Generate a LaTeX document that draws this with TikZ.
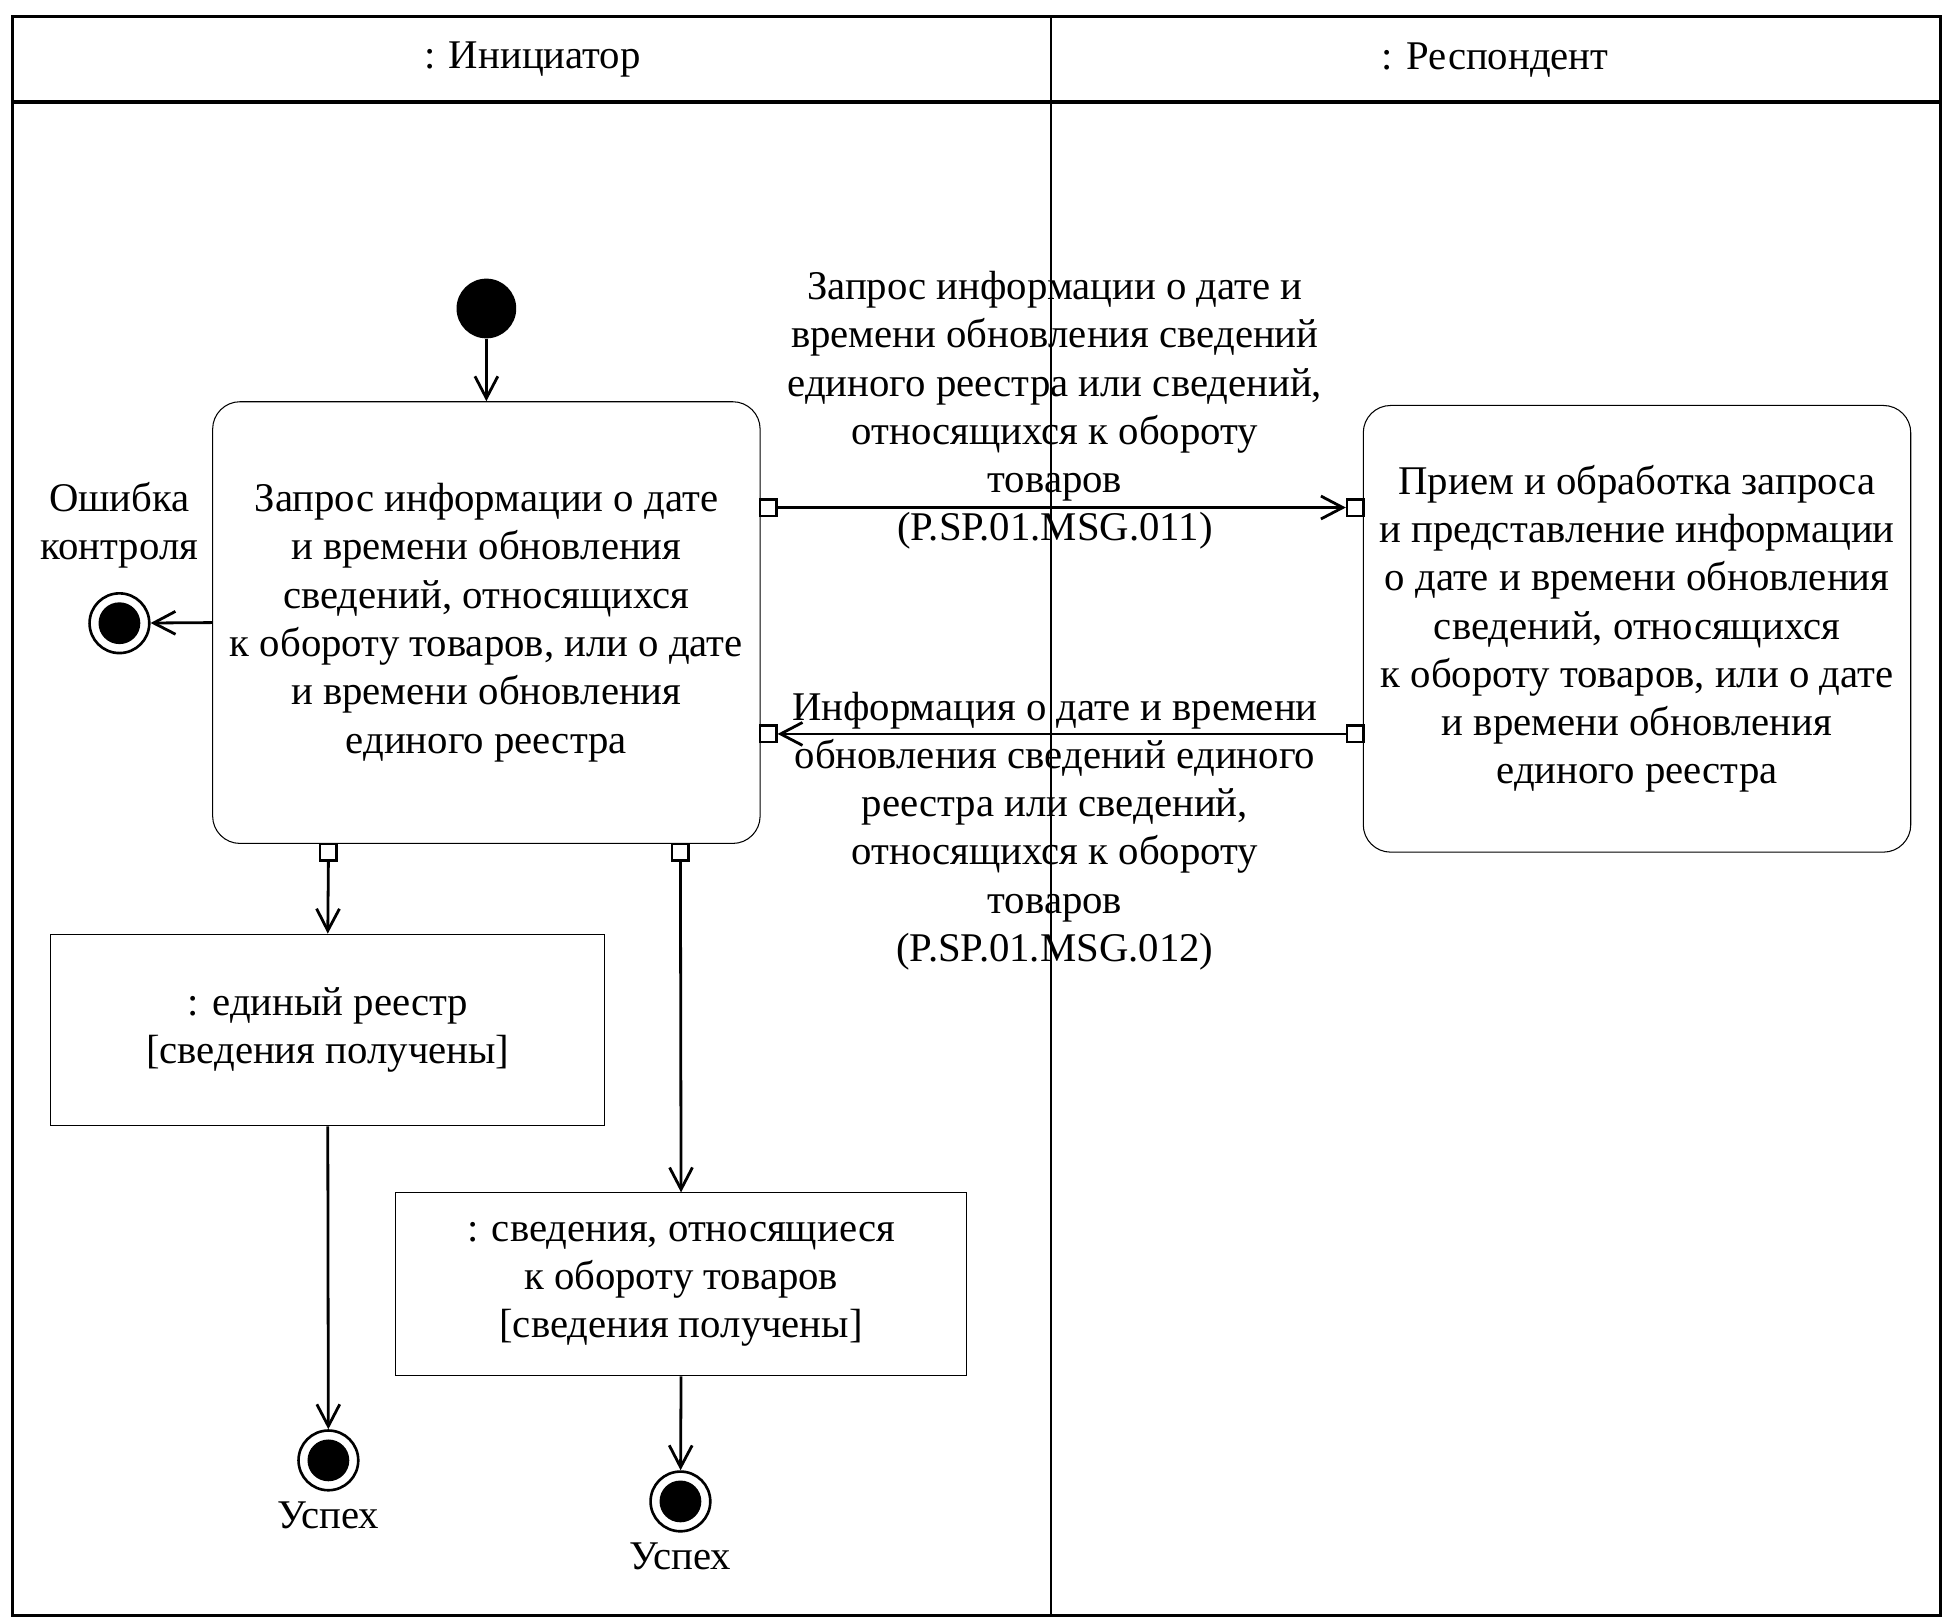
\documentclass[tikz,border=0pt]{standalone}
\usepackage{fontspec}
\setmainfont{Liberation Serif}
\usetikzlibrary{arrows.meta}
\begin{document}
\begin{tikzpicture}[x=0.025cm,y=-0.025cm,
  txt/.style={font=\fontsize{23.3}{27.6}\selectfont, align=center, inner sep=0pt},
  action/.style={txt, draw, line width=0.6pt, rounded corners=0.55cm, minimum width=11cm},
  objbox/.style={txt, draw, line width=0.6pt},
  pinbox/.style={draw, line width=1.4pt, fill=white, minimum size=0.33cm, inner sep=0pt},
  initnode/.style={circle, fill=black, minimum size=1.2cm, inner sep=0pt},
  finalnode/.style={circle, draw, line width=1.5pt, minimum size=1.2cm, inner sep=0pt,
    path picture={\fill (path picture bounding box.center) circle (0.42cm);}},
  flow/.style={line width=1.6pt, -{Straight Barb[length=0.44cm,width=0.46cm,line width=1.6pt]}},
  frame/.style={line width=1.8pt},
  divider/.style={line width=1.2pt}
]
\useasboundingbox (0,0) rectangle (1566,1304.7);
% swimlanes
\draw[frame] (10,13) rectangle (1560,1299);
\draw[frame] (10,82) -- (1560,82);
\draw[divider] (845,13) -- (845,1299);
\node[txt] (lane1) at (428,48) {: Инициатор};
\node[txt] (lane2) at (1202,48) {: Респондент};

% nodes
\node[initnode] (init) at (391,248) {};
\node[action, minimum height=8.875cm] (A) at (391,500.5) {Запрос информации о дате\\и времени обновления\\сведений, относящихся\\к обороту товаров, или о дате\\и времени обновления\\единого реестра};
\node[action, minimum height=8.975cm] (B) at (1316,505.5) {Прием и обработка запроса\\и представление информации\\о дате и времени обновления\\сведений, относящихся\\к обороту товаров, или о дате\\и времени обновления\\единого реестра};

\node[pinbox] (pA1) at (617.5,408) {};
\node[pinbox] (pA2) at (617.5,590) {};
\node[pinbox] (pA3) at (264,685) {};
\node[pinbox] (pA4) at (547,685) {};
\node[pinbox] (pB1) at (1089.5,408) {};
\node[pinbox] (pB2) at (1089.5,590) {};

\node[finalnode] (ferr) at (96,501) {};
\node[txt] (errlbl) at (96,422) {Ошибка\\контроля};

\node[objbox, minimum width=11.125cm, minimum height=3.85cm] (O1) at (263.5,828) {: единый реестр\\{[}сведения получены{]}};
\node[objbox, minimum width=11.475cm, minimum height=3.675cm] (O2) at (547.5,1032.5) {: сведения, относящиеся\\к обороту товаров\\{[}сведения получены{]}};

\node[finalnode] (f1) at (264,1174) {};
\node[txt] (s1) at (264,1218) {Успех};
\node[finalnode] (f2) at (547,1207) {};
\node[txt] (s2) at (547,1251) {Успех};

% message labels
\node[txt] (m1) at (848,330) {Запрос информации о дате и\\времени обновления сведений\\единого реестра или сведений,\\относящихся к обороту\\товаров\\(P.SP.01.MSG.011)};
\node[txt] (m2) at (848,668) {Информация о дате и времени\\обновления сведений единого\\реестра или сведений,\\относящихся к обороту\\товаров\\(P.SP.01.MSG.012)};

% connectors
\draw[flow] (init) -- (A.north);
\draw[flow] (A.west) -- (ferr);
\draw[flow] (pA1.east) -- (pB1.west);
\draw[flow] (pB2.west) -- (pA2.east);
\draw[flow] (pA3.south) -- (O1.north);
\draw[flow] (pA4.south) -- (O2.north);
\draw[flow] (O1.south) -- (f1);
\draw[flow] (O2.south) -- (f2);
\end{tikzpicture}
\end{document}
